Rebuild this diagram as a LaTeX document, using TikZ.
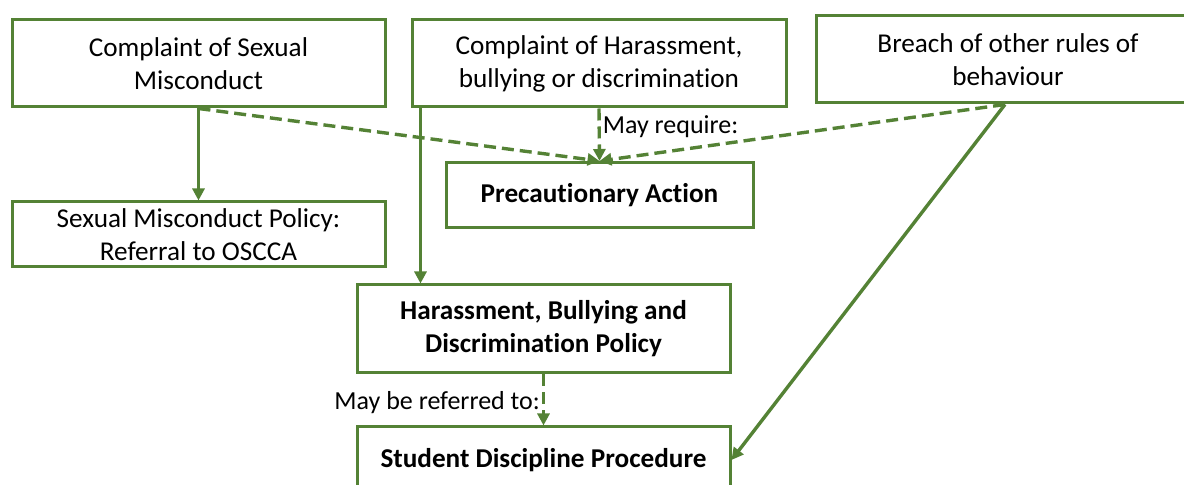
\documentclass[tikz,border=0pt]{standalone}
\usepackage{fontspec}
\setmainfont{Carlito}[Ligatures=NoCommon]
\usetikzlibrary{arrows.meta}
\definecolor{policygreen}{HTML}{548235}

\tikzset{
  box/.style={draw=policygreen, line width=1.5pt, align=center, inner sep=2pt,
    font=\fontsize{13.6}{16.5}\selectfont},
  boldbox/.style={box, font=\fontsize{13.6}{16.5}\selectfont\bfseries},
  solidarrow/.style={draw=policygreen, line width=1.7pt, -{Triangle[length=6pt,width=6pt]}},
  dasharrow/.style={solidarrow, dash pattern=on 6pt off 3pt},
  note/.style={font=\fontsize{13}{16}\selectfont, inner sep=1pt},
}

\begin{document}
\begin{tikzpicture}[x=0.5pt, y=-0.5pt]
        \useasboundingbox (0,0) rectangle (1184,485);

        % Top row: the three kinds of complaint
        \node[box, minimum width=186.5pt, minimum height=43.5pt] (sexual) at (198.5,63.5)
            {Complaint of Sexual\\Misconduct};
        \node[box, minimum width=187pt, minimum height=43.5pt] (harass) at (599,63.5)
            {Complaint of Harassment,\\bullying or discrimination};
        \node[box, minimum width=192pt, minimum height=43.5pt] (breach) at (1008,59.5)
            {Breach of other rules of\\behaviour};

        % Middle row
        \node[boldbox, minimum width=153.5pt, minimum height=32.5pt] (precaution) at (599.5,195)
            {Precautionary Action};
        \node[box, minimum width=186.5pt, minimum height=32.5pt] (smpolicy) at (198.5,234.5)
            {Sexual Misconduct Policy:\\Referral to OSCCA};
        \node[boldbox, minimum width=186.5pt, minimum height=44pt] (hbdpolicy) at (543.5,329)
            {Harassment, Bullying and\\Discrimination Policy};

        % Bottom row
        \node[boldbox, minimum width=186.5pt, minimum height=33pt] (discipline) at (543.5,460)
            {Student Discipline Procedure};

        % Solid arrows
        \draw[solidarrow] (sexual.south) -- (smpolicy.north);
        \draw[solidarrow] ([xshift=5pt]harass.south west) -- ([xshift=5pt]harass.south west |- hbdpolicy.north);
        \draw[solidarrow] ([xshift=-1.5pt]breach.south) -- (discipline.east);

        % Dashed arrows to precautionary action
        \draw[dasharrow] (sexual.south) -- (precaution.north);
        \draw[dasharrow] ([xshift=-1.5pt]breach.south) -- (precaution.north);
        \draw[dasharrow] (harass.south) -- node[note, anchor=west, pos=0.35] (mayreq) {May require:} (precaution.north);

        % Dashed referral to discipline
        \draw[dasharrow] (hbdpolicy.south) -- node[note, anchor=east, pos=0.55] (mayref) {May be referred to:} (discipline.north);
    \end{tikzpicture}
\end{document}
